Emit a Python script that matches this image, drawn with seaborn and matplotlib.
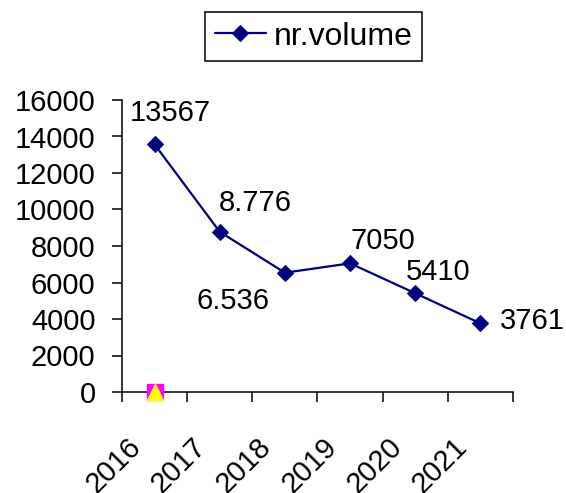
import matplotlib
matplotlib.use("Agg")
import matplotlib.pyplot as plt
import matplotlib.transforms as mtransforms
import seaborn as sns
import pandas as pd
import numpy as np

years = ["2016", "2017", "2018", "2019", "2020", "2021"]
volume = [13567, 8776, 6536, 7050, 5410, 3761]
point_labels = ["13567", "8.776", "6.536", "7050", "5410", "3761"]
# label offsets in pixels (dx, dy) from each point
label_offsets = [(16, 31), (36, 29), (-52, -28), (33, 22), (23, 21), (52, 2)]
# stray marker at 2016 sitting on zero
extra_year = ["2016"]
extra_value = [0]

navy = "#000080"

sns.set_style("white")
plt.rcParams["font.family"] = ["Liberation Sans", "DejaVu Sans"]
plt.rcParams["text.color"] = "black"
plt.rcParams["xtick.color"] = "black"
plt.rcParams["ytick.color"] = "black"
plt.rcParams["axes.labelcolor"] = "black"

df = pd.DataFrame({"year": years, "volume": volume})
df["pos"] = np.arange(len(years))

fig = plt.figure(figsize=(5.66, 4.93), dpi=100)
ax = fig.add_axes([122 / 566, 1 - 392 / 493, (513 - 122) / 566, (392 - 100) / 493])

sns.lineplot(data=df, x="pos", y="volume", ax=ax, color=navy, linewidth=1.6,
             marker="D", markersize=8, markeredgecolor=navy, markerfacecolor=navy,
             label="nr.volume")

ex_pos = [years.index(y) for y in extra_year]
ax.plot(ex_pos, extra_value, linestyle="none", marker="s", markersize=11,
        color="#ff00ff", clip_on=False, zorder=5)
ax.plot(ex_pos, extra_value, linestyle="none", marker="^", markersize=11,
        color="#ffff00", clip_on=False, zorder=6)

for x, y, txt, (dx, dy) in zip(df["pos"], volume, point_labels, label_offsets):
    ax.annotate(txt, (x, y), xytext=(dx, dy), textcoords="offset pixels",
                ha="center", va="center", fontsize=21)

ax.set_xlim(-0.5, len(years) - 0.5)
ax.set_ylim(0, 16000)
ax.set_yticks(range(0, 16001, 2000))
ax.set_xticks(np.arange(-0.5, len(years), 1.0))
ax.set_xticklabels([])
ax.set_xticks(np.arange(len(years)), minor=True)
ax.set_xticklabels(years, minor=True, rotation=45, ha="right", va="center",
                   rotation_mode="anchor", fontsize=21)
ax.tick_params(axis="x", which="minor", length=0, pad=36.5)
ax.tick_params(axis="x", which="major", direction="out", length=7.5, width=1.1,
               bottom=True)
ax.tick_params(axis="y", direction="out", length=7.5, width=1.1, left=True,
               labelsize=21, pad=11.5)
shift = mtransforms.ScaledTranslation(-18 / 100, 0, fig.dpi_scale_trans)
for lbl in ax.get_xticklabels(minor=True):
    lbl.set_transform(lbl.get_transform() + shift)
ax.set_xlabel("")
ax.set_ylabel("")

for s in ["top", "right"]:
    ax.spines[s].set_visible(False)
for s in ["left", "bottom"]:
    ax.spines[s].set_color("black")
    ax.spines[s].set_linewidth(1.1)

leg = ax.legend(loc="upper center", bbox_to_anchor=(313.5 / 566, 1 - 12 / 493),
                bbox_transform=fig.transFigure, fontsize=23, frameon=True,
                fancybox=False, edgecolor="black", handlelength=1.6,
                handletextpad=0.25, borderpad=0.3, borderaxespad=0)
leg.get_frame().set_linewidth(1.1)
leg.get_frame().set_alpha(1)

fig.savefig("out.png", dpi=100)
